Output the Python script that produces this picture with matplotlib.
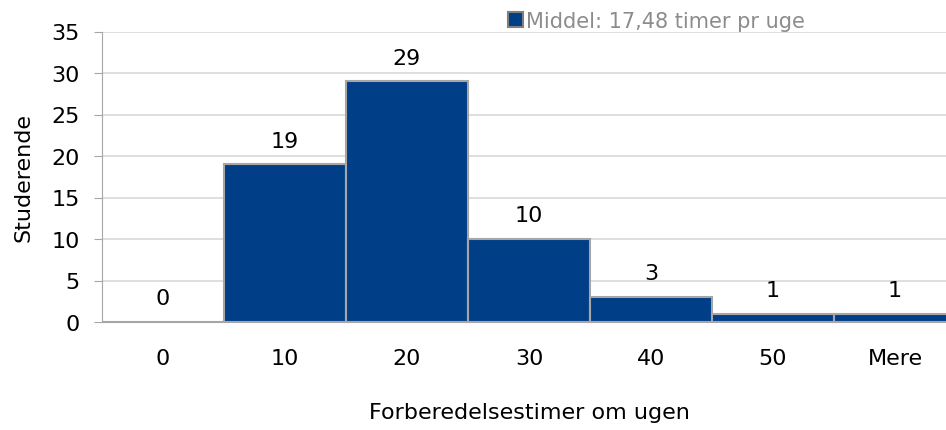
import matplotlib.pyplot as plt
from matplotlib.patches import Patch

# Data
kategorier = ['0', '10', '20', '30', '40', '50', 'Mere']
studerende = [0, 19, 29, 10, 3, 1, 1]
legende_tekst = 'Middel: 17,48 timer pr uge'

bar_farve = '#003f87'
kant_farve = '#a6a6a6'

plt.rcParams['font.family'] = ['DejaVu Sans']

fig = plt.figure(figsize=(9.46, 4.31), dpi=100)
# plottet går en smule ud over højre kant, som i originalen
ax = fig.add_axes([102 / 946, 1 - 323 / 431, 854 / 946, 290.5 / 431])

x = list(range(len(kategorier)))
ax.bar(x, studerende, width=1.0, color=bar_farve, edgecolor=kant_farve,
       linewidth=1.5, zorder=3)

for xi, v in zip(x, studerende):
    ax.annotate(str(v), (xi, v), xytext=(0, 17), textcoords='offset points',
                ha='center', va='center', fontsize=16, color='black')

ax.set_xlim(-0.5, len(kategorier) - 0.5)
ax.set_ylim(0, 35)
ax.set_yticks(range(0, 36, 5))
ax.set_xticks(x)
ax.set_xticklabels(kategorier)

ax.yaxis.grid(True, color='#d9d9d9', linewidth=1.2, zorder=0)
ax.set_axisbelow(True)

for s in ['top', 'right']:
    ax.spines[s].set_visible(False)
ax.spines['left'].set_color('#a6a6a6')
ax.spines['bottom'].set_color('#a6a6a6')
ax.tick_params(axis='y', length=6, color='#a6a6a6', labelsize=16, pad=10)
ax.tick_params(axis='x', length=0, labelsize=16, pad=19)

ax.set_ylabel('Studerende', fontsize=16, labelpad=13)
ax.set_xlabel('Forberedelsestimer om ugen', fontsize=16, labelpad=24)

handle = Patch(facecolor=bar_farve, edgecolor='#7f7f7f', linewidth=1.5)
fig.legend([handle], [legende_tekst], loc='center left',
           bbox_to_anchor=(498 / 946, 1 - 22 / 431), frameon=False,
           fontsize=15, handlelength=0.7, handleheight=0.7,
           handletextpad=0.15, labelcolor='#8c8c8c', borderpad=0)

fig.savefig('out.png', dpi=100)
